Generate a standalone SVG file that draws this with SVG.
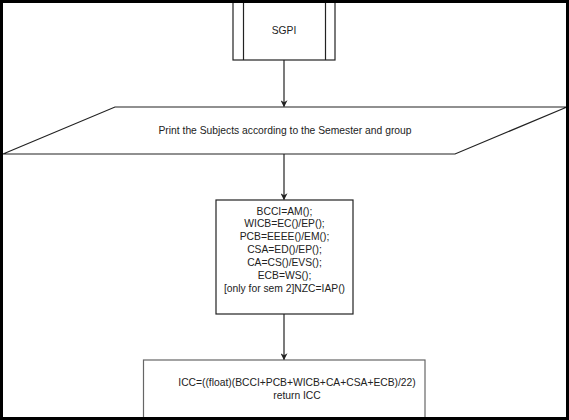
<svg xmlns="http://www.w3.org/2000/svg" width="569" height="420" viewBox="0 0 569 420">
<style>
.n{fill:#fff;stroke:#222;stroke-width:1.2}
.t{font-family:"Liberation Sans",Arial,sans-serif;font-size:10.3px;fill:#222;text-anchor:middle}
.c{stroke:#222;stroke-width:1.2;fill:none;marker-end:url(#a)}
</style>
<defs>
<marker id="a" viewBox="0 0 10 10" refX="9" refY="5" markerWidth="7" markerHeight="7" markerUnits="userSpaceOnUse" orient="auto">
<path d="M0,0 L10,5 L0,10 L3,5 Z" fill="#222"/>
</marker>
</defs>
<rect x="0" y="0" width="569" height="420" fill="#fff"/>
<g id="sgpi">
<rect class="n" x="233" y="-5" width="102" height="65"/>
<line x1="243.5" y1="-5" x2="243.5" y2="60" stroke="#222" stroke-width="1.2"/>
<line x1="325.5" y1="-5" x2="325.5" y2="60" stroke="#222" stroke-width="1.2"/>
<text class="t" x="284" y="34">SGPI</text>
</g>
<g id="print">
<polygon class="n" points="115,107 567,107 455,154 3,154"/>
<text class="t" x="285" y="134">Print the Subjects according to the Semester and group</text>
</g>
<g id="assign">
<rect class="n" x="216" y="200" width="137" height="114"/>
<text class="t" x="284.5" y="214.5">BCCI=AM();</text>
<text class="t" x="284.5" y="227.3">WICB=EC()/EP();</text>
<text class="t" x="284.5" y="240.2">PCB=EEEE()/EM();</text>
<text class="t" x="284.5" y="253">CSA=ED()/EP();</text>
<text class="t" x="284.5" y="265.8">CA=CS()/EVS();</text>
<text class="t" x="284.5" y="278.7">ECB=WS();</text>
<text class="t" x="284.5" y="291.5">[only for sem 2]NZC=IAP()</text>
</g>
<g id="icc">
<rect x="143.5" y="360" width="281.5" height="70" fill="#fff" stroke="#666" stroke-width="1.2"/>
<text class="t" x="297" y="385.5">ICC=((float)(BCCI+PCB+WICB+CA+CSA+ECB)/22)</text>
<text class="t" x="297" y="398.5">return ICC</text>
</g>
<g id="connectors">
<line class="c" x1="284" y1="60" x2="284" y2="106.5"/>
<line class="c" x1="284" y1="154" x2="284" y2="199.5"/>
<line class="c" x1="284" y1="314" x2="284" y2="359.5"/>
</g>
<g id="frame" fill="#000">
<rect x="0" y="0" width="569" height="3"/>
<rect x="0" y="0" width="3" height="420"/>
<rect x="566" y="0" width="3" height="420"/>
<rect x="0" y="417" width="569" height="3"/>
</g>
</svg>
